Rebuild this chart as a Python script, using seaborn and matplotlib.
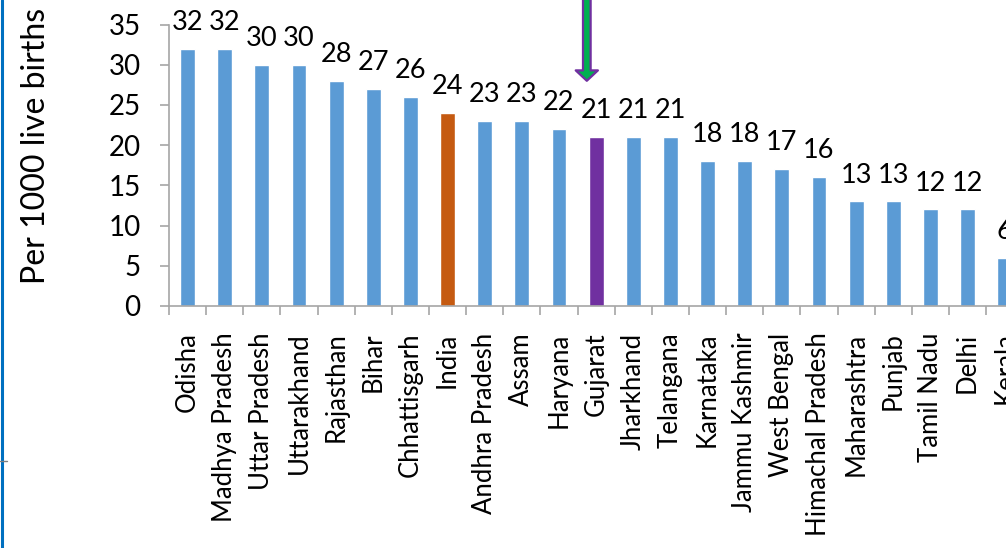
import matplotlib
matplotlib.use("Agg")
import matplotlib.pyplot as plt
import seaborn as sns
import pandas as pd
from matplotlib.lines import Line2D
from matplotlib.ticker import FixedLocator

states = ["Odisha", "Madhya Pradesh", "Uttar Pradesh", "Uttarakhand", "Rajasthan",
          "Bihar", "Chhattisgarh", "India", "Andhra Pradesh", "Assam", "Haryana",
          "Gujarat", "Jharkhand", "Telangana", "Karnataka", "Jammu Kashmir",
          "West Bengal", "Himachal Pradesh", "Maharashtra", "Punjab", "Tamil Nadu",
          "Delhi", "Kerala"]
values = [32, 32, 30, 30, 28, 27, 26, 24, 23, 23, 22, 21, 21, 21, 18, 18, 17, 16,
          13, 13, 12, 12, 6]
highlight = {"India": "#C55A11", "Gujarat": "#7030A0"}
base_color = "#5B9BD5"
y_ticks = [0, 5, 10, 15, 20, 25, 30, 35]
y_label = "Per 1000 live births"

sns.set_theme(style="white")
plt.rcParams["font.family"] = ["Lato", "DejaVu Sans"]

df = pd.DataFrame({"state": states, "value": values})
palette = {s: highlight.get(s, base_color) for s in states}

fig = plt.figure(figsize=(10.06, 5.48), dpi=100)
ax = fig.add_axes([169 / 1006, 242 / 548, 854.2 / 1006, 281.5 / 548])

sns.barplot(data=df, x="state", y="value", hue="state", palette=palette,
            width=0.4, legend=False, ax=ax, saturation=1)

ax.set_xlim(-0.5, len(states) - 0.5)
ax.set_ylim(0, 35)
ax.set_yticks(y_ticks)
ax.set_xlabel("")
ax.set_ylabel(y_label, fontsize=23, color="#000000")
ax.yaxis.set_label_coords((51 - 169) / 854.2, (306 - 146) / 281.5)

for c in ax.containers:
    ax.bar_label(c, fmt="%d", padding=10, fontsize=19.5, color="#000000", clip_on=False)

gray = "#A6A6A6"
for side in ["top", "right"]:
    ax.spines[side].set_visible(False)
for side in ["left", "bottom"]:
    ax.spines[side].set_color(gray)
    ax.spines[side].set_linewidth(1.2)

ax.tick_params(axis="y", which="major", length=6.5, width=1.2, color=gray,
               labelsize=20, pad=14, labelcolor="#000000", left=True)
ax.tick_params(axis="x", which="major", length=0, pad=19, labelsize=18.5,
               labelcolor="#000000", rotation=90)
ax.xaxis.set_minor_locator(FixedLocator([i - 0.5 for i in range(len(states) + 1)]))
ax.tick_params(axis="x", which="minor", length=6.5, width=1.2, color=gray, bottom=True)

# arrow pointing to Gujarat
gi = states.index("Gujarat")
ax.annotate("", xy=(gi - 0.25, 28.0), xytext=(gi - 0.25, 42),
            xycoords="data", textcoords="data", annotation_clip=False,
            arrowprops=dict(arrowstyle="simple,head_width=16,head_length=7.5,tail_width=5.5",
                            mutation_scale=1, fc="#00B050", ec="#7030A0", lw=1.6,
                            shrinkA=0, shrinkB=0))

# slide frame remnants
fig.add_artist(Line2D([1.5 / 1006, 1.5 / 1006], [0, 1], color="#0070C0", lw=2.2,
                      transform=fig.transFigure))
fig.add_artist(Line2D([0, 7 / 1006], [1 - 461 / 548, 1 - 461 / 548], color="#808080", lw=1,
                      transform=fig.transFigure))

fig.savefig("out.png", dpi=100)
